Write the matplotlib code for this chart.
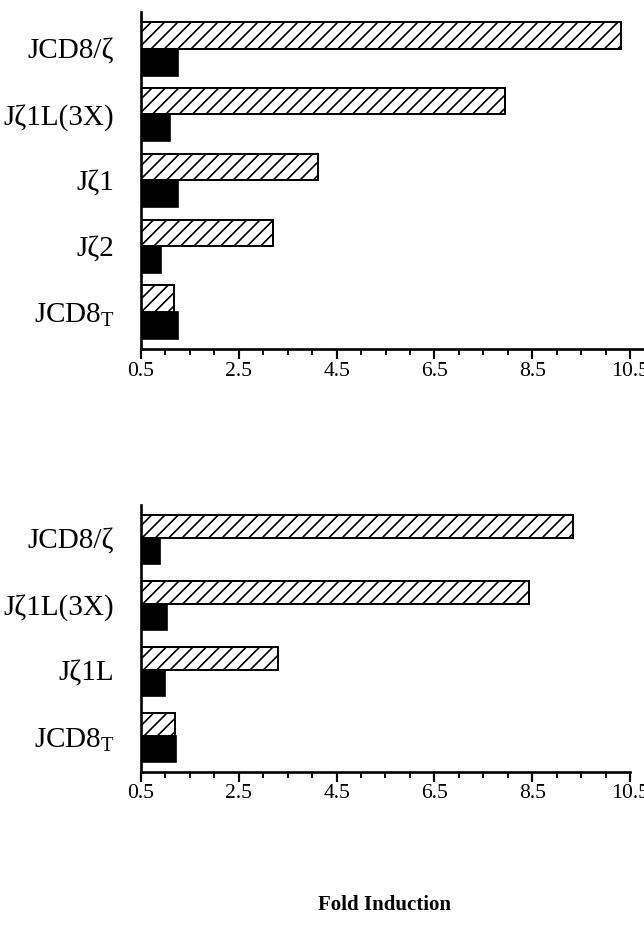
import numpy as np
import matplotlib
matplotlib.use("Agg")
import matplotlib.pyplot as plt
from matplotlib.ticker import MultipleLocator

# values (fold induction)
top_labels = ["JCD8/\u03b6", "J\u03b61L(3X)", "J\u03b61", "J\u03b62", "JCD8$_{\\mathregular{T}}$"]
top_hatched = [10.31, 7.95, 4.11, 3.20, 1.18]
top_black = [1.26, 1.10, 1.26, 0.90, 1.25]

bottom_labels = ["JCD8/\u03b6", "J\u03b61L(3X)", "J\u03b61L", "JCD8$_{\\mathregular{T}}$"]
bottom_hatched = [9.33, 8.43, 3.31, 1.20]
bottom_black = [0.88, 1.04, 1.00, 1.21]

xticks = [0.5, 2.5, 4.5, 6.5, 8.5, 10.5]
base = 0.5

plt.rcParams["font.family"] = ["Liberation Serif", "DejaVu Serif"]
plt.rcParams["hatch.linewidth"] = 1.0
plt.rcParams["hatch.color"] = "black"

DPI = 120
fig = plt.figure(figsize=(644 / DPI, 942 / DPI), dpi=DPI)


def panel(ax, labels, hatched, black, hh, bh, ylim, xmax):
    n = len(labels)
    pos = np.arange(n)[::-1]
    ax.barh(pos + hh / 2, np.array(hatched) - base, left=base, height=hh,
            facecolor="white", edgecolor="black", linewidth=1.2, hatch="///")
    ax.barh(pos - bh / 2, np.array(black) - base, left=base, height=bh,
            facecolor="black", edgecolor="black", linewidth=1.0)
    ax.set_xlim(base, xmax)
    ax.set_ylim(*ylim)
    ax.set_yticks(pos)
    ax.set_yticklabels(labels, fontsize=17.5)
    ax.tick_params(axis="y", length=0, pad=16)
    ax.set_xticks(xticks)
    ax.set_xticklabels([str(t) for t in xticks], fontsize=13)
    ax.xaxis.set_minor_locator(MultipleLocator(0.5))
    ax.tick_params(axis="x", which="major", direction="out", length=6, width=1.3, pad=1.5)
    ax.tick_params(axis="x", which="minor", direction="out", length=3.5, width=1.1)
    for s in ["top", "right"]:
        ax.spines[s].set_visible(False)
    for s in ["left", "bottom"]:
        ax.spines[s].set_linewidth(1.6)


ax1 = fig.add_axes([141 / 644, 1 - 349 / 942, (644 - 141) / 644, (349 - 12) / 942])
panel(ax1, top_labels, top_hatched, top_black, 0.40, 0.41, (-0.565, 4.556), 10.5 + 14 / 48.9)

ax2 = fig.add_axes([141 / 644, 1 - 772 / 942, (630 - 141) / 644, (772 - 505) / 942])
panel(ax2, bottom_labels, bottom_hatched, bottom_black, 0.36, 0.39, (-0.54, 3.506), 10.5)

fig.text(385 / 644, 1 - 905 / 942, "Fold Induction", ha="center", va="center",
         fontsize=12.5, fontweight="bold")

fig.savefig("out.png", dpi=DPI)
